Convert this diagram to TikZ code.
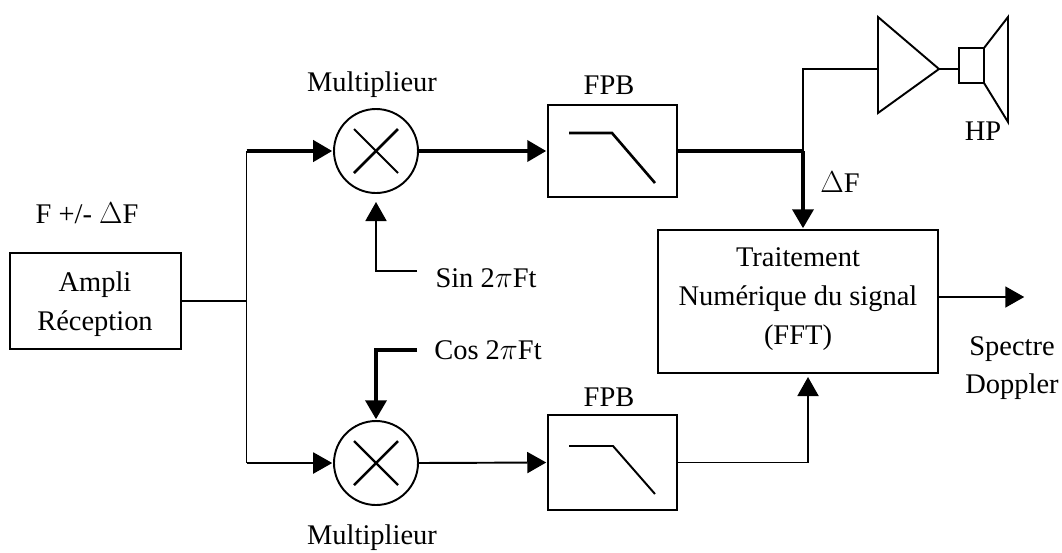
\documentclass[tikz,border=0pt]{standalone}
\usepackage{fontspec}
\setmainfont{Liberation Serif}
\usepackage{tikz}
\usetikzlibrary{arrows.meta}

\tikzset{
  bloc/.style={rectangle, draw=black, fill=white, outer sep=0pt, inner sep=0pt, align=center},
  multi/.style={circle, draw=black, fill=white, outer sep=0pt, inner sep=0pt, minimum size=84*0.02cm},
  fil/.style={line width=1.1pt},
  gros/.style={line width=2.2pt},
  fleche/.style={-{Triangle[length=3.8mm,width=4.2mm]}, shorten >=1pt},
  txt/.style={inner sep=0pt, font=\fontsize{16.2}{22}\selectfont, align=center},
}

\begin{document}
\begin{tikzpicture}[x=0.02cm,y=-0.02cm,fil]
    \useasboundingbox (0,0) rectangle (1062,552);

	%---NODES---
    \node[bloc, minimum width=171*0.02cm, minimum height=96*0.02cm] (ampli) at (95.5,301) {};
    \node[multi] (m1) at (376,151) {};
    \node[multi] (m2) at (376,463) {};
    \node[bloc, minimum width=129*0.02cm, minimum height=92*0.02cm] (fpb1) at (612.5,151) {};
    \node[bloc, minimum width=129*0.02cm, minimum height=95*0.02cm] (fpb2) at (612.5,462.5) {};
    \node[bloc, minimum width=280*0.02cm, minimum height=143*0.02cm] (trt) at (798,301.5) {};
    \node[bloc, minimum width=25*0.02cm, minimum height=35*0.02cm] (hp) at (971.5,65.5) {};

    \coordinate (j) at (246.5,301);
    \coordinate (jh) at (246.5,151);
    \coordinate (jb) at (246.5,463);
    \coordinate (k) at (803,151);
    \coordinate (kh) at (803,69);
    \coordinate (s1) at (417,271);
    \coordinate (s1c) at (376,271);
    \coordinate (c1) at (417,350);
    \coordinate (c1c) at (376,350);
    \coordinate (f2c) at (808,462.5);
    \coordinate (out) at (1026,297);

    \coordinate (a1) at (878,17);
    \coordinate (a2) at (878,113);
    \coordinate (a3) at (939,69);
    \coordinate (h1) at (1008,17);
    \coordinate (h2) at (1008,122);

	%---EDGES---
    \draw (ampli.east) -- (j);
    \draw (jh) -- (jb);
    \draw[gros,fleche] (jh) -- (m1.west);
    \draw[fleche] (jb) -- (m2.west);
    \draw[gros,fleche] (m1.east) -- (fpb1.west);
    \draw[fleche] (m2.east) -- (fpb2.west);
    \draw[fleche, shorten >=9*0.02cm] (s1) -- (s1c) -- (m1.south);
    \draw[gros,fleche] (c1) -- (c1c) -- (m2.north);
    \draw[gros] (fpb1.east) -- (k);
    \draw[gros,fleche] (k) -- (k |- trt.north);
    \draw (k) -- (kh) -- (a1 |- kh);
    \draw[fleche, shorten >=4*0.02cm] (fpb2.east) -- (f2c) -- (f2c |- trt.south);
    \draw[fleche] (trt.east |- out) -- (out);

    % ampli + HP
    \draw (a1) -- (a2) -- (a3) -- cycle;
    \draw (a3) -- (hp.west |- a3);
    \draw (hp.north east) -- (h1) -- (h2) -- (hp.south east);

    % multiplieurs
    \draw (m1.center) ++(-22,-22) -- ++(44,44);
    \draw[line width=1.5pt] (m1.center) ++(-22,22) -- ++(44,-44);
    \draw[line width=1.4pt] (m2.center) ++(-22,-22) -- ++(44,44);
    \draw[line width=1.4pt] (m2.center) ++(-22,22) -- ++(44,-44);

    % filtres
    \draw[line width=1.5pt] (fpb1.center) ++(-43.5,-18) -- ++(43,0) -- ++(43,50);
    \draw (fpb2.center) ++(-43.5,-16.5) -- ++(44,0) -- ++(42,48);

	%---LABELS---
    \node[txt] (lf) at (87,213) {F +/- $\Delta$F};
    \node[txt] (la) at (95,304) {Ampli\\Réception};
    \node[txt] (lm1) at (372,85) {Multiplieur};
    \node[txt] (lm2) at (372,538) {Multiplieur};
    \node[txt] (lf1) at (609,85) {FPB};
    \node[txt] (lf2) at (609,397) {FPB};
    \node[txt] (ls) at (486,278) {Sin 2$\pi$Ft};
    \node[txt] (lc) at (488,350) {Cos 2$\pi$Ft};
    \node[txt] (lt) at (798,299) {Traitement\\Numérique du signal\\(FFT)};
    \node[txt] (ld) at (840,182) {$\Delta$F};
    \node[txt] (lh) at (983,131) {HP};
    \node[txt] (lsp) at (1012,368) {Spectre\\Doppler};
\end{tikzpicture}
\end{document}
